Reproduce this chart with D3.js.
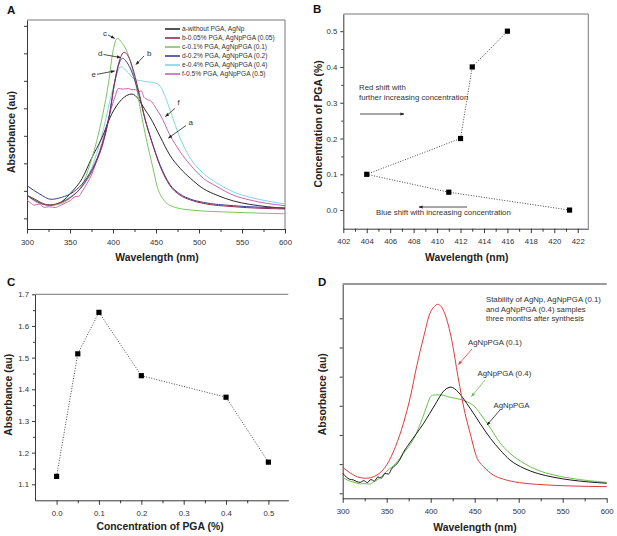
<!DOCTYPE html>
<html><head><meta charset="utf-8">
<script src="https://cdn.jsdelivr.net/npm/d3@7"></script>
<style>
html,body{margin:0;padding:0;background:#fff;}
svg{display:block;font-family:"Liberation Sans",Arial,sans-serif;}
</style></head>
<body><svg id="c" width="617" height="536"></svg>
<script>
// ---------------- DATA ----------------
// Panel A: UV-vis spectra
const aWl  = [300,310,320,328,340,352,364,375,387,398,410,422,430,437,443,455,466,478,490,505,521,540,559,580,600];
const aAbs = [0.21,0.17,0.13,0.12,0.15,0.24,0.36,0.545,0.73,0.94,1.08,1.13,1.08,0.99,0.92,0.74,0.576,0.455,0.364,0.27,0.21,0.158,0.127,0.105,0.09];
const bWl  = [300,312,325,336,354,367,379,389,396,402,407,413,418,422,430,437,445,455,466,478,490,505,540,600];
const bAbs = [0.21,0.15,0.12,0.136,0.21,0.32,0.485,0.70,0.94,1.24,1.42,1.509,1.47,1.39,1.15,0.91,0.70,0.47,0.30,0.21,0.167,0.136,0.106,0.085];
const cWl  = [300,313,325,340,352,364,373,381,388,395,400,405,410,418,426,433,441,447,451,459,470,490,540,600];
const cAbs = [0.21,0.15,0.12,0.136,0.197,0.30,0.485,0.70,0.94,1.24,1.52,1.636,1.60,1.48,1.24,0.94,0.64,0.44,0.30,0.167,0.106,0.076,0.055,0.042];
const dWl  = [300,315,328,340,354,367,379,389,396,402,406,411,416,422,430,437,445,455,466,478,490,505,540,600];
const dAbs = [0.297,0.22,0.173,0.19,0.24,0.34,0.50,0.71,0.95,1.24,1.38,1.455,1.42,1.33,1.13,0.91,0.70,0.48,0.31,0.22,0.175,0.145,0.115,0.095];
const eWl  = [300,310,320,333,345,355,364,375,383,391,397,402,409,418,426,433,441,449,455,461,467,478,490,505,521,540,560,579,600];
const eAbs = [0.21,0.15,0.125,0.12,0.17,0.22,0.29,0.455,0.64,0.88,1.09,1.24,1.379,1.32,1.26,1.25,1.24,1.23,1.20,1.10,0.97,0.73,0.545,0.41,0.32,0.24,0.19,0.158,0.13];
const fWl  = [300,304,309,314,320,326,333,338,344,350,356,360,364,370,375,383,391,398,403,406,412,418,422,426,430,433,436,440,445,450,455,466,478,490,505,521,540,559,579,600];
const fAbs = [0.167,0.14,0.12,0.13,0.10,0.105,0.098,0.115,0.136,0.16,0.197,0.20,0.242,0.32,0.394,0.576,0.79,1.0,1.12,1.18,1.175,1.18,1.17,1.17,1.15,1.16,1.10,1.08,1.06,1.0,0.94,0.76,0.606,0.485,0.364,0.288,0.21,0.167,0.136,0.115];
const aNames = ["a-without PGA, AgNp","b-0.05% PGA, AgNpPGA (0.05)","c-0.1% PGA, AgNpPGA (0.1)","d-0.2% PGA, AgNpPGA (0.2)","e-0.4% PGA, AgNpPGA (0.4)","f-0.5% PGA, AgNpPGA (0.5)"];
const aXTicks = [300,350,400,450,500,550,600];

// Panel B: peak wavelength vs concentration
const bPeakWl = [421.3,411,404,412,413,416];
const bConc   = [0.0,0.05,0.1,0.2,0.4,0.5];
const bXTicks = [402,404,406,408,410,412,414,416,418,420,422];
const bYTicks = [0.0,0.1,0.2,0.3,0.4,0.5];

// Panel C: absorbance vs concentration
const cConc = [0.0,0.05,0.1,0.2,0.4,0.5];
const cPeakAbs = [1.125,1.512,1.643,1.443,1.375,1.17];
const cXTicks = [0.0,0.1,0.2,0.3,0.4,0.5];
const cYTicks = [1.1,1.2,1.3,1.4,1.5,1.6,1.7];

// Panel D: stability spectra
const dRedWl  = [300,308,320,327,339,350,360,369,377,384,392,399,404,408,412,416,424,431,439,445,452,460,471,483,501,520,558,600];
const dRedAbs = [0.223,0.177,0.134,0.129,0.157,0.243,0.40,0.60,0.83,1.086,1.34,1.54,1.60,1.62,1.60,1.54,1.31,1.0,0.686,0.51,0.314,0.229,0.157,0.12,0.091,0.077,0.063,0.057];
const dBlkWl  = [300,304,308,312,316,320,324,328,332,336,340,344,348,352,356,360,365,369,376,384,392,399,407,414,423,431,441,450,456,468,479,490,506,521,540,559,600];
const dBlkAbs = [0.171,0.14,0.12,0.115,0.10,0.094,0.108,0.092,0.118,0.105,0.14,0.13,0.17,0.165,0.215,0.24,0.29,0.35,0.43,0.514,0.60,0.686,0.786,0.87,0.91,0.87,0.77,0.67,0.60,0.47,0.37,0.286,0.214,0.171,0.137,0.114,0.086];
const dGrnWl  = [300,305,310,315,320,325,330,335,340,345,350,355,360,366,369,375,382,390,396,400,404,411,422,433,445,450,456,468,479,490,506,521,540,559,600];
const dGrnAbs = [0.137,0.115,0.10,0.09,0.08,0.085,0.078,0.095,0.12,0.15,0.19,0.22,0.255,0.31,0.343,0.40,0.486,0.63,0.757,0.83,0.843,0.843,0.823,0.806,0.77,0.743,0.686,0.557,0.43,0.343,0.257,0.20,0.157,0.129,0.094];
const dXTicks = [300,350,400,450,500,550,600];

// ---------------- DRAW ----------------
const svg = d3.select("#c");
svg.append("rect").attr("width",617).attr("height",536).attr("fill","#fff");
const defs = svg.append("defs");
function marker(id,color){
  defs.append("marker").attr("id",id).attr("viewBox","0 0 10 10").attr("refX",9).attr("refY",5)
    .attr("markerWidth",5).attr("markerHeight",5).attr("orient","auto-start-reverse")
    .append("path").attr("d","M0,1 L10,5 L0,9 z").attr("fill",color);
}
marker("ak","#222"); marker("ar","#e03b3b"); marker("ag","#6cbf4f");

const AX="#222", TXT="#333";
function zip(xs,ys){return xs.map((v,i)=>[v,ys[i]]);}

function drawAxes(x,y,o){
  const [x0,x1]=x.range(), [yb,yt]=y.range();
  // x axis
  const gx = svg.append("g").attr("transform",`translate(0,${yb})`);
  gx.call(d3.axisBottom(x).tickValues(o.xMaj).tickSize(4.5).tickPadding(5.5).tickSizeOuter(0).tickFormat(o.xFmt));
  const gxm = svg.append("g").attr("transform",`translate(0,${yb})`);
  gxm.call(d3.axisBottom(x).tickValues(o.xMin).tickSize(3).tickSizeOuter(0).tickFormat(""));
  gxm.select(".domain").remove();
  const gy = svg.append("g").attr("transform",`translate(${x0},0)`);
  gy.call(d3.axisLeft(y).tickValues(o.yMaj).tickSize(3).tickPadding(3).tickSizeOuter(0).tickFormat(o.yFmt));
  const gym = svg.append("g").attr("transform",`translate(${x0},0)`);
  gym.call(d3.axisLeft(y).tickValues(o.yMin).tickSize(o.yMinSize||2).tickSizeOuter(0).tickFormat(""));
  gym.select(".domain").remove();
  [gx,gxm,gy,gym].forEach(g=>{
    g.selectAll("line,path").attr("stroke",AX).attr("stroke-width",0.9);
    g.selectAll("text").attr("font-size","7.8px").attr("fill",TXT).attr("font-family","Liberation Sans, Arial, sans-serif");
  });
  // frame lines
  if(o.top) svg.append("line").attr("x1",x0).attr("x2",o.topRight||x1).attr("y1",yt).attr("y2",yt)
      .attr("stroke",o.topColor||"#777").attr("stroke-width",o.topW||1);
  if(o.right) svg.append("line").attr("x1",x1).attr("x2",x1).attr("y1",yt).attr("y2",yb)
      .attr("stroke","#777").attr("stroke-width",1);
}
function title(txt,x,y,rot){
  const t=svg.append("text").text(txt).attr("font-size","10.4px").attr("font-weight","bold").attr("fill","#222")
    .attr("text-anchor","middle");
  if(rot) t.attr("transform",`translate(${x},${y}) rotate(-90)`); else t.attr("x",x).attr("y",y);
}
function letter(txt,x,y){
  svg.append("text").text(txt).attr("x",x).attr("y",y).attr("font-size","11.5px").attr("font-weight","bold").attr("fill","#111");
}
function note(txt,x,y,size,color,anchor){
  svg.append("text").text(txt).attr("x",x).attr("y",y).attr("font-size",(size||7.8)+"px")
    .attr("fill",color||TXT).attr("text-anchor",anchor||"start");
}
function arrow(x1,y1,x2,y2,m,color,w){
  svg.append("line").attr("x1",x1).attr("y1",y1).attr("x2",x2).attr("y2",y2)
    .attr("stroke",color||"#222").attr("stroke-width",w||0.8).attr("marker-end",`url(#${m||"ak"})`);
}
const rng=(a,b,s)=>d3.range(a,b+s/2,s);

// ===== Panel A =====
{
  const x=d3.scaleLinear().domain([300,600]).range([27,285]);
  const y=d3.scaleLinear().domain([-0.097,1.803]).range([229,20]);
  drawAxes(x,y,{xMaj:aXTicks,xMin:rng(325,575,50),xFmt:d3.format("d"),
    yMaj:[0,0.5,1,1.5],yMin:[0.25,0.75,1.25,1.75],yFmt:()=>"",yMinSize:3,top:true,right:true});
  const series=[[aWl,aAbs,"#2a2a2a"],[bWl,bAbs,"#8c2c55"],[cWl,cAbs,"#7cc463"],[dWl,dAbs,"#3a3f8f"],[eWl,eAbs,"#85d3e2"],[fWl,fAbs,"#c862b6"]];
  const line=d3.line().x(d=>x(d[0])).y(d=>y(d[1])).curve(d3.curveMonotoneX);
  const order=[4,5,0,2,3,1];
  order.forEach(i=>{const s=series[i];
    svg.append("path").attr("d",line(zip(s[0],s[1]))).attr("fill","none").attr("stroke",s[2]).attr("stroke-width",1);});
  // legend
  aNames.forEach((n,i)=>{
    const yy=29+i*9;
    svg.append("line").attr("x1",165).attr("x2",180).attr("y1",yy).attr("y2",yy).attr("stroke",series[i][2]).attr("stroke-width",1.6);
    note(n,182,yy+2.3,6.6);
  });
  // annotations
  note("c",103,35.5,8); arrow(108,35,114.5,38.3);
  note("d",98,55.5,8); arrow(103.5,54.5,120.5,57.5);
  note("e",91.5,76.5,8); arrow(97,74.3,114.5,71);
  note("b",147,55.5,8); arrow(144,56,136,64.5);
  note("f",177.5,104.5,8); arrow(175,108.3,165.5,116.5);
  note("a",188.5,124.5,8); arrow(186,125.5,168.5,138);
  title("Wavelength (nm)",157,261);
  title("Absorbance (au)",15,132,true);
  letter("A",7,13.5);
}

// ===== Panel B =====
{
  const x=d3.scaleLinear().domain([402,422.9]).range([343.3,588.3]);
  const y=d3.scaleLinear().domain([-0.052,0.548]).range([228.7,14]);
  drawAxes(x,y,{xMaj:bXTicks,xMin:rng(403,421,2),xFmt:d3.format("d"),
    yMaj:bYTicks,yMin:rng(0.05,0.45,0.1),yFmt:d3.format(".1f"),top:true,right:true});
  const pts=zip(bPeakWl,bConc);
  svg.append("path").attr("d",d3.line().x(d=>x(d[0])).y(d=>y(d[1]))(pts)).attr("fill","none")
    .attr("stroke","#333").attr("stroke-width",0.9).attr("stroke-dasharray","1,1.6");
  svg.selectAll(null).data(pts).enter().append("rect").attr("x",d=>x(d[0])-2.6).attr("y",d=>y(d[1])-2.6)
    .attr("width",5.2).attr("height",5.2).attr("fill","#000");
  note("Red shift with",359,89.5); note("further increasing concentration",359,99.5);
  arrow(360,114,404,114);
  note("Blue shift with increasing concentration",376,214.5);
  arrow(467,207,419,207);
  title("Wavelength (nm)",466.7,261);
  title("Concentration of PGA (%)",321.5,124,true);
  letter("B",313,12.8);
}

// ===== Panel C =====
{
  const x=d3.scaleLinear().domain([-0.051,0.547]).range([35,288.3]);
  const y=d3.scaleLinear().domain([1.0495,1.7]).range([500.3,294.3]);
  drawAxes(x,y,{xMaj:cXTicks,xMin:rng(0.05,0.45,0.1),xFmt:d3.format(".1f"),
    yMaj:cYTicks,yMin:rng(1.15,1.65,0.1),yFmt:d3.format(".1f"),top:true,topRight:288.3});
  const pts=zip(cConc,cPeakAbs);
  svg.append("path").attr("d",d3.line().x(d=>x(d[0])).y(d=>y(d[1]))(pts)).attr("fill","none")
    .attr("stroke","#333").attr("stroke-width",0.9).attr("stroke-dasharray","1,1.6");
  svg.selectAll(null).data(pts).enter().append("rect").attr("x",d=>x(d[0])-2.6).attr("y",d=>y(d[1])-2.6)
    .attr("width",5.2).attr("height",5.2).attr("fill","#000");
  title("Concentration of PGA (%)",160,530);
  title("Absorbance (au)",12,394.7,true);
  letter("C",7,285.7);
}

// ===== Panel D =====
{
  const x=d3.scaleLinear().domain([300,600]).range([342.7,606.7]);
  const y=d3.scaleLinear().domain([-0.043,1.794]).range([498.3,284]);
  drawAxes(x,y,{xMaj:dXTicks,xMin:rng(325,575,50),xFmt:d3.format("d"),
    yMaj:[0,0.5,1,1.5],yMin:[0.25,0.75,1.25],yFmt:()=>"",yMinSize:3,top:true,topColor:"#999",topW:2});
  const line=d3.line().x(d=>x(d[0])).y(d=>y(d[1])).curve(d3.curveMonotoneX);
  [[dGrnWl,dGrnAbs,"#6cbf4f"],[dBlkWl,dBlkAbs,"#1a1a1a"],[dRedWl,dRedAbs,"#e03b3b"]].forEach(s=>{
    svg.append("path").attr("d",line(zip(s[0],s[1]))).attr("fill","none").attr("stroke",s[2]).attr("stroke-width",1);
  });
  note("Stability of AgNp, AgNpPGA (0.1)",486,302);
  note("and AgNpPGA (0.4) samples",486,311.5);
  note("three months after synthesis",486,321);
  note("AgNpPGA (0.1)",468,345); arrow(472,349,458.5,364.5,"ar","#e03b3b");
  note("AgNpPGA (0.4)",477.5,376); arrow(485,380,471.5,396.5,"ag","#6cbf4f");
  note("AgNpPGA",493.5,407.5); arrow(500,410,487,425);
  title("Wavelength (nm)",475,530.5);
  title("Absorbance (au)",326,394.2,true);
  letter("D",318,285.7);
}
</script></body></html>
